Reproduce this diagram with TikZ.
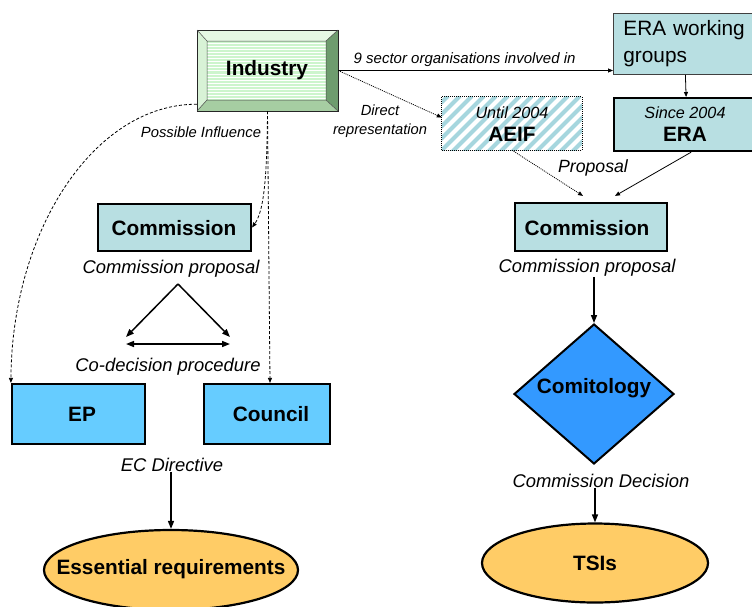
\documentclass[tikz,border=0pt]{standalone}
\usepackage{fontspec}
\setmainfont{Liberation Sans}
\usetikzlibrary{arrows.meta,shapes.geometric,calc}
\definecolor{commfill}{HTML}{B8DFE2}
\definecolor{parlfill}{HTML}{66CCFF}
\definecolor{comitfill}{HTML}{3399FF}
\definecolor{outfill}{HTML}{FFCC66}
\definecolor{hatchblue}{HTML}{A6D6DE}
\definecolor{indface}{HTML}{CDF5CD}
\definecolor{indtop}{HTML}{E6F8E4}
\definecolor{indleft}{HTML}{D8F2D6}
\definecolor{indright}{HTML}{6E9C6E}
\definecolor{indbottom}{HTML}{A6CDA2}
\begin{document}
\begin{tikzpicture}[x=1pt,y=-1pt,
  bodybox/.style={draw=black,line width=2.2pt,fill=commfill,inner sep=0pt},
  boldtxt/.style={font=\fontsize{20.8}{24}\selectfont\bfseries,inner sep=0pt},
  ittxt/.style={font=\fontsize{18.4}{22}\selectfont\itshape,inner sep=0pt},
  yeartxt/.style={font=\fontsize{16.2}{19}\selectfont\itshape,inner sep=0pt},
  smallit/.style={font=\fontsize{15}{19}\selectfont\itshape,inner sep=0pt},
  flow/.style={line width=1.5pt,-{Triangle[length=8pt,width=6pt]}},
  thinflow/.style={line width=0.8pt,-{Triangle[length=5pt,width=4pt]}},
  dotflow/.style={line width=0.8pt,dash pattern=on 1pt off 1pt,-{Triangle[length=5pt,width=4pt]}},
  influence/.style={line width=0.8pt,dash pattern=on 3pt off 2pt,-{Triangle[length=5pt,width=4pt]}},
]
\useasboundingbox (0,0) rectangle (752,606);
\clip (0,0) rectangle (752,606);

% ---------- Industry (bevelled block) ----------
\fill[indtop] (197,30) -- (338,30) -- (326,41) -- (207,41) -- cycle;
\fill[indleft] (197,30) -- (207,41) -- (207,100) -- (197,111) -- cycle;
\fill[indright] (338,30) -- (338,111) -- (326,100) -- (326,41) -- cycle;
\fill[indbottom] (197,111) -- (338,111) -- (326,100) -- (207,100) -- cycle;
\fill[indface] (207,41) rectangle (326,100);
\foreach \k in {0,...,18}
  \draw[white,line width=1pt] (207,{43+3.1*\k}) -- (326,{43+3.1*\k});
\draw[line width=0.6pt,black!85] (197,30) rectangle (338,111);
\draw[line width=0.5pt,black!70] (207,41) rectangle (326,100)
  (197,30) -- (207,41) (338,30) -- (326,41) (338,111) -- (326,100) (197,111) -- (207,100);
\node[minimum width=141pt,minimum height=81pt,inner sep=0pt] (ind) at (267.5,70.5) {};
\node[boldtxt] (indtxt) at (267,70) {Industry};

% ---------- ERA side ----------
\node[draw=black!75,line width=0.8pt,fill=commfill,anchor=north west,
      minimum height=61pt,text width=124pt,inner xsep=10pt,inner ysep=0pt,align=left,
      font=\fontsize{20.8}{27}\selectfont] (erawg) at (613,13) {ERA working\\groups};
\node[bodybox,anchor=north west,minimum width=144pt,minimum height=53pt] (era) at (613,97) {};
\node[yeartxt] (erayear) at (685,113) {Since 2004};
\node[boldtxt] (eratxt) at (685,134) {ERA};

% AEIF, hatched with a dotted frame
\node[minimum width=140pt,minimum height=53pt,inner sep=0pt] (aeif) at (512,123.5) {};
\begin{scope}
  \clip (aeif.south west) rectangle (aeif.north east);
  \foreach \s in {380,392,...,590}
    \draw[hatchblue,line width=4.2pt] (\s,152) -- ++(56,-56);
\end{scope}
\draw[line width=0.7pt,dash pattern=on 1pt off 1pt] (aeif.south west) rectangle (aeif.north east);
\node[yeartxt] (aeifyear) at (512,113) {Until 2004};
\node[boldtxt] (aeiftxt) at (512,134) {AEIF};

% ---------- right-hand procedure ----------
\node[bodybox,minimum width=152pt,minimum height=48pt,text depth=0pt] (comR) at (591,227) {};
\node[boldtxt] (comRtxt) at (587,228) {Commission};
\node[ittxt] (cpR) at (587,268) {Commission proposal};
\node[diamond,draw=black,line width=2pt,fill=comitfill,minimum width=160pt,minimum height=140pt,inner sep=0pt] (dia) at (594,394) {};
\node[boldtxt] (diatxt) at (594,388) {Comitology};
\node[ittxt] (cdec) at (601,481) {Commission Decision};
\node[ellipse,draw=black,line width=2.2pt,fill=outfill,minimum width=226pt,minimum height=79pt,inner sep=0pt] (tsi) at (595,563) {};
\node[boldtxt] (tsitxt) at (595,563) {TSIs};
\node[font=\fontsize{17.7}{20}\selectfont\itshape,inner sep=0pt] (prop) at (593,168) {Proposal};

% ---------- left-hand procedure ----------
\node[bodybox,minimum width=153pt,minimum height=47pt] (comL) at (174.5,227.5) {};
\node[boldtxt] (comLtxt) at (174,228) {Commission};
\node[ittxt] (cpL) at (171,269) {Commission proposal};
\node[ittxt] (codec) at (168,367) {Co-decision procedure};
\node[bodybox,fill=parlfill,minimum width=133pt,minimum height=60pt] (ep) at (78.5,414) {};
\node[boldtxt] (eptxt) at (82,414) {EP};
\node[bodybox,fill=parlfill,minimum width=126pt,minimum height=60pt] (council) at (267,414) {};
\node[boldtxt] (counciltxt) at (271,414) {Council};
\node[ittxt] (ecd) at (172,465) {EC Directive};
\node[ellipse,draw=black,line width=2.2pt,fill=outfill,minimum width=254pt,minimum height=80pt,inner sep=0pt] (ess) at (171,570) {};
\node[boldtxt] (esstxt) at (171,569) {Essential requirements};

% co-decision triangle
\coordinate (apex) at (178,284);
\coordinate (tl) at (126,337);
\coordinate (tr) at (230,337);
\coordinate (bl) at (126,344);
\coordinate (br) at (230,344);
\draw[flow] (apex) -- (tl);
\draw[flow] (apex) -- (tr);
\draw[line width=1.5pt,{Triangle[length=8pt,width=6pt]}-{Triangle[length=8pt,width=6pt]}] (bl) -- (br);

% ---------- connectors ----------
\draw[thinflow] (ind.east) -- (ind.east -| erawg.west)
  node[smallit,pos=0.46,above=3pt] (sector) {9 sector organisations involved in};
\draw[dotflow] (ind.east) -- ([yshift=6pt]aeif.west);
\node[font=\fontsize{14.7}{19}\selectfont\itshape,inner sep=0pt,align=center] (direct) at (380,121) {Direct\\representation};
\draw[thinflow] (erawg.south) -- (era.north);
\draw[dotflow] (aeif.south) -- ([shift={(-8pt,6pt)}]comR.north);
\draw[thinflow] ([xshift=5pt]era.south) -- ([shift={(24pt,6pt)}]comR.north);
\draw[flow] (cpR.south -| dia.north) -- (dia.north);
\draw[flow] (cdec.south -| tsi.north) -- (tsi.north);
\draw[flow] (ecd.south -| ess.north) -- (ess.north);

% possible influence of industry
\draw[influence] ([yshift=7pt]ind.south west) .. controls (95,104) and (12,229) .. (ep.north west);
\draw[influence] (ind.south) .. controls (267,185) and (263,212) .. (comL.east);
\draw[influence] (ind.south) -- ([xshift=3pt]council.north);
\node[font=\fontsize{14.8}{18}\selectfont\itshape,inner sep=0pt] (infl) at (201,132) {Possible Influence};
\end{tikzpicture}
\end{document}
